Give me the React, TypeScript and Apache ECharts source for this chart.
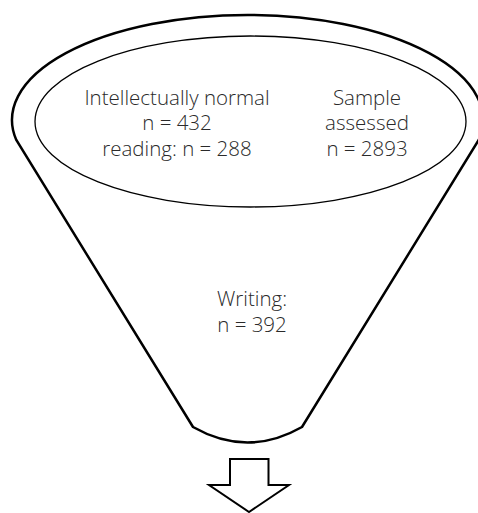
import React, { useEffect, useRef } from "react";
import * as echarts from "echarts";

const leftLabelLines = ["Intellectually normal", "n = 432", "reading: n = 288"];
const rightLabelLines = ["Sample", "assessed", "n = 2893"];
const bottomLabelLines = ["Writing:", "n = 392"];

const OUTER_D =
  "M 16.3 140 A 235.5 105 0 1 1 478.7 140 L 302 427 Q 247.5 458 193 427 Z";

let registered = false;
function ensureShapes() {
  if (registered) return;
  echarts.graphic.registerShape("funnelOutline", echarts.graphic.extendPath(OUTER_D, {}) as any);
  registered = true;
}

export default function App() {
  const ref = useRef<HTMLDivElement>(null);
  useEffect(() => {
    if (!ref.current) return;
    ensureShapes();
    const chart = echarts.init(ref.current, null, { renderer: "svg" });
    const font = "'Open Sans', sans-serif";
    const textStyle = (lines: string[], x: number, y: number) => ({
      type: "text",
      x,
      y,
      z: 10,
      style: {
        text: lines.join("\n"),
        fill: "#2a2a2a",
        fontFamily: font,
        fontSize: 20.5,
        fontWeight: 300,
        align: "center",
        verticalAlign: "middle",
        lineHeight: 25.5,
      },
    });
    chart.setOption({
      animation: false,
      graphic: [
        {
          type: "funnelOutline",
          x: 0,
          y: 0,
          shape: {},
          style: { fill: "#fff", stroke: "#000", lineWidth: 2.5 },
        },
        {
          type: "ellipse",
          shape: { cx: 250.5, cy: 121.5, rx: 215.5, ry: 85.5 },
          style: { fill: "none", stroke: "#000", lineWidth: 1.3 },
        },
        {
          type: "polygon",
          shape: {
            points: [
              [230, 459],
              [268.5, 459],
              [268.5, 485],
              [289, 485],
              [249, 512],
              [209, 485],
              [230, 485],
            ],
          },
          style: { fill: "#fff", stroke: "#000", lineWidth: 2 },
        },
        textStyle(leftLabelLines, 177, 122),
        textStyle(rightLabelLines, 367, 122),
        textStyle(bottomLabelLines, 252, 311),
      ],
    });
    return () => chart.dispose();
  }, []);
  return (
    <div
      ref={ref}
      style={{ position: "fixed", left: 0, top: 0, width: 478, height: 513, background: "#fff" }}
    />
  );
}
